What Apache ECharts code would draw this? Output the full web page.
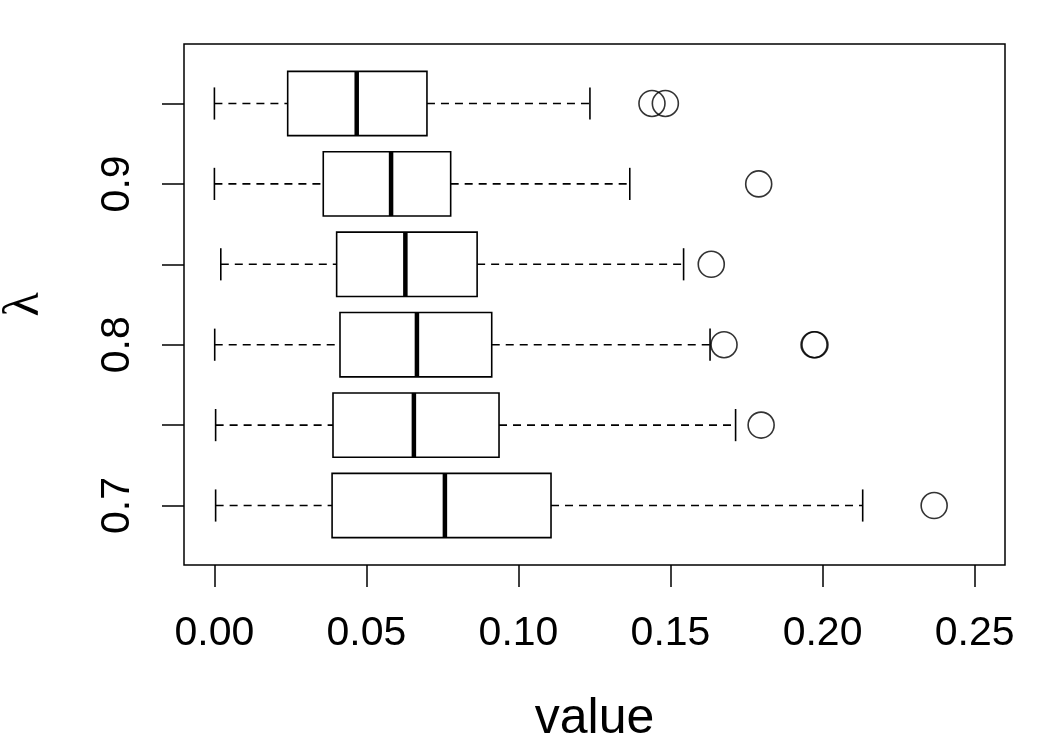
<!DOCTYPE html>
<html>
<head>
<meta charset="utf-8">
<title>boxplot</title>
<script src="https://cdn.jsdelivr.net/npm/echarts@6/dist/echarts.min.js"></script>
<style>
  html, body { margin: 0; padding: 0; background: #fff; }
  #chart { width: 1050px; height: 750px; }
</style>
</head>
<body>
<div id="chart"></div>
<script>
  // 类别 (λ)，从下往上
  var categories = ['0.7', '0.75', '0.8', '0.85', '0.9', '0.95']
  // 五数概括
  var lows    = [0.0004, 0.0004, 0.0001, 0.0021, 0.0000, 0.0000]
  var q1s     = [0.0387, 0.0390, 0.0413, 0.0402, 0.0358, 0.0241]
  var medians = [0.0758, 0.0656, 0.0666, 0.0628, 0.0581, 0.0468]
  var q3s     = [0.1107, 0.0936, 0.0912, 0.0864, 0.0777, 0.0699]
  var highs   = [0.2132, 0.1714, 0.1630, 0.1543, 0.1366, 0.1235]
  // 异常值：[类别序号, 值]
  var outlierCats = [0, 1, 2, 2, 2, 3, 4, 5, 5]
  var outlierVals = [0.2367, 0.1798, 0.1676, 0.1972, 0.1975, 0.1634, 0.1790, 0.1439, 0.1483]
  // 刻度
  var xTicks = [0, 0.05, 0.10, 0.15, 0.20, 0.25]
  var yTicks = [1, 2, 3, 4, 5, 6]
  var yLabelTicks = [1, 3, 5]

  var font = 'Liberation Sans, Arial, sans-serif'

  var boxData = categories.map(function (c, i) {
    return [i + 1, lows[i], q1s[i], medians[i], q3s[i], highs[i]]
  })
  var outData = outlierCats.map(function (c, i) {
    return [outlierVals[i], c + 1]
  })

  var chart = echarts.init(document.getElementById('chart'), null, { renderer: 'canvas' })

  chart.setOption({
    animation: false,
    backgroundColor: '#fff',
    grid: {
      left: 184,
      top: 44,
      width: 821,
      height: 521,
      containLabel: false,
      outerBoundsMode: 'none',
      show: true,
      borderColor: '#000',
      borderWidth: 1.5,
      backgroundColor: 'transparent'
    },
    xAxis: {
      type: 'value',
      min: -0.01,
      max: 0.26,
      name: 'value',
      nameLocation: 'middle',
      nameGap: 129,
      nameTextStyle: { color: '#000', fontSize: 50, fontFamily: font },
      axisLine: { show: false, onZero: false },
      splitLine: { show: false },
      axisTick: {
        show: true,
        length: 22,
        customValues: xTicks,
        lineStyle: { color: '#000', width: 1.5 }
      },
      axisLabel: {
        show: true,
        margin: 48,
        customValues: xTicks,
        color: '#000',
        fontSize: 41,
        fontFamily: font,
        formatter: function (v) { return v.toFixed(2) }
      }
    },
    yAxis: {
      type: 'value',
      min: 0.26,
      max: 6.74,
      name: 'λ',
      nameLocation: 'middle',
      nameGap: 134,
      nameRotate: 90,
      nameTextStyle: { color: '#000', fontSize: 50, fontFamily: 'Liberation Serif, serif' },
      axisLine: { show: false, onZero: false },
      splitLine: { show: false },
      axisTick: {
        show: true,
        length: 22,
        customValues: yTicks,
        lineStyle: { color: '#000', width: 1.5 }
      },
      axisLabel: {
        show: true,
        rotate: 90,
        margin: 46,
        customValues: yLabelTicks,
        color: '#000',
        fontSize: 41,
        fontFamily: font,
        formatter: function (v) { return categories[Math.round(v) - 1] }
      }
    },
    series: [
      {
        // 箱体 + 须
        type: 'custom',
        data: boxData,
        encode: { x: [1, 2, 3, 4, 5], y: 0 },
        renderItem: function (params, api) {
          var pos = api.value(0)
          var low = api.coord([api.value(1), pos])
          var q1 = api.coord([api.value(2), pos])
          var med = api.coord([api.value(3), pos])
          var q3 = api.coord([api.value(4), pos])
          var high = api.coord([api.value(5), pos])
          var boxH = api.size([0, 0.8])[1]
          var capH = api.size([0, 0.4])[1]
          var y = low[1]
          var solid = { stroke: '#000', lineWidth: 1.6, fill: null }
          var dashed = { stroke: '#000', lineWidth: 1.6, lineDash: [8, 6], fill: null }
          return {
            type: 'group',
            children: [
              { type: 'line', shape: { x1: low[0], y1: y, x2: q1[0], y2: y }, style: dashed },
              { type: 'line', shape: { x1: q3[0], y1: y, x2: high[0], y2: y }, style: dashed },
              { type: 'line', shape: { x1: low[0], y1: y - capH / 2, x2: low[0], y2: y + capH / 2 }, style: solid },
              { type: 'line', shape: { x1: high[0], y1: y - capH / 2, x2: high[0], y2: y + capH / 2 }, style: solid },
              {
                type: 'rect',
                shape: { x: q1[0], y: y - boxH / 2, width: q3[0] - q1[0], height: boxH },
                style: { fill: '#fff', stroke: '#000', lineWidth: 1.6 }
              },
              { type: 'line', shape: { x1: med[0], y1: y - boxH / 2, x2: med[0], y2: y + boxH / 2 }, style: { stroke: '#000', lineWidth: 4.5 } }
            ]
          }
        }
      },
      {
        // 异常值
        type: 'scatter',
        data: outData,
        symbol: 'circle',
        symbolSize: 26,
        itemStyle: {
          color: 'rgba(0,0,0,0)',
          borderColor: '#000',
          borderWidth: 1.6
        }
      }
    ]
  })
</script>
</body>
</html>
